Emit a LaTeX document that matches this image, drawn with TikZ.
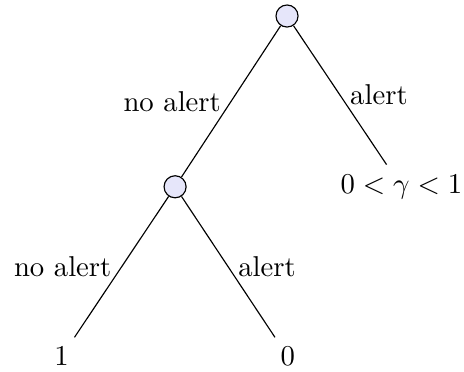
\documentclass[tikz,border=0pt]{standalone}
\usetikzlibrary{positioning}
\definecolor{lavender}{RGB}{230,230,250}
\tikzset{
  chance/.style={circle,draw=black,fill=lavender,minimum size=2.7mm,inner sep=0pt},
  branch/.style={draw=black,thin},
  lbl/.style={font=\normalsize},
}
\begin{document}
\begin{tikzpicture}
  \useasboundingbox (-3.513,-4.357) rectangle (2.166,0.196);
  % decision tree
  \node[chance] (root) at (0,0) {};
  \node[chance] (noal) at (-1.37,-2.09) {};
  \node (gam) at (1.40,-2.09) {$0<\gamma<1$};
  \node (one) at (-2.76,-4.17) {$1$};
  \node (zero) at (0.01,-4.17) {$0$};
  \foreach \a/\b/\s/\t in {root/noal/left/no alert,root/gam/right/alert,noal/one/left/no alert,noal/zero/right/alert}
    \draw[branch] (\a) -- node[lbl,\s] {\t} (\b);
\end{tikzpicture}
\end{document}
